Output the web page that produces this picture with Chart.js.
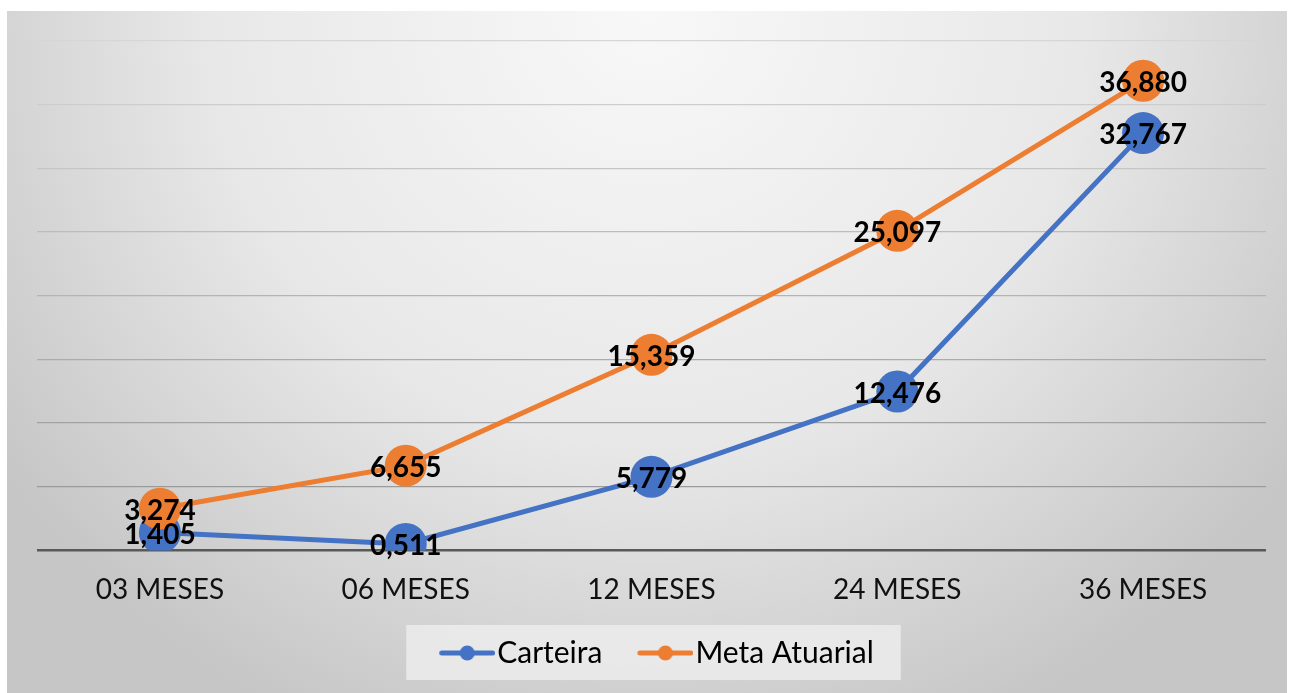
<!DOCTYPE html>
<html>
<head>
<meta charset="utf-8">
<script src="https://cdn.jsdelivr.net/npm/chart.js@4.4.1/dist/chart.umd.min.js"></script>
<style>
  html, body { margin: 0; padding: 0; background: #fff; }
  #wrap { position: absolute; left: 7px; top: 11px; width: 1280px; height: 682px; }
</style>
</head>
<body>
<div id="wrap"><canvas id="chart"></canvas></div>
<script>
const labels = ['03 MESES', '06 MESES', '12 MESES', '24 MESES', '36 MESES'];
const carteira = [1.405, 0.511, 5.779, 12.476, 32.767];
const metaAtuarial = [3.274, 6.655, 15.359, 25.097, 36.880];
const yTicks = [0, 5, 10, 15, 20, 25, 30, 35, 40];

const BLUE = '#4472C4';
const ORANGE = '#ED7D31';
const LEGEND_SHIFT = 10;

// legend marker: a short line with a dot, pushed to the right of the canvas
function legendSymbol(color) {
    const c = document.createElement('canvas');
    c.width = 96;
    c.height = 20;
    const g = c.getContext('2d');
    g.strokeStyle = color;
    g.lineWidth = 5;
    g.lineCap = 'round';
    g.beginPath();
    g.moveTo(42.5, 10);
    g.lineTo(93.5, 10);
    g.stroke();
    g.fillStyle = color;
    g.beginPath();
    g.arc(68, 10, 7.5, 0, Math.PI * 2);
    g.fill();
    return c;
}
const symbols = [legendSymbol(BLUE), legendSymbol(ORANGE)];

function formatValue(v) {
    return v.toFixed(3).replace('.', ',');
}

function mixGray(t) {
    // t = 0 at top, 1 near bottom
    const a = 214, b = 145;
    const v = Math.round(a + (b - a) * t);
    return `rgb(${v},${v},${v})`;
}

const backgroundPlugin = {
    id: 'background',
    afterUpdate(chart) {
        // the marker has blank space on its left, so nudge the row back to look centred
        // (runs after the legend plugin has placed its hit boxes)
        const legend = chart.legend;
        if (legend) {
            legend.left -= LEGEND_SHIFT;
            legend.right -= LEGEND_SHIFT;
            legend.legendHitBoxes.forEach(h => { h.left -= LEGEND_SHIFT; });
        }
    },
    beforeDraw(chart) {
        const { ctx, width, height } = chart;
        ctx.save();
        const rx = width * 0.62, ry = height * 1.15;
        ctx.translate(width / 2, 0);
        ctx.scale(rx, ry);
        const grad = ctx.createRadialGradient(0, 0, 0, 0, 0, 1);
        grad.addColorStop(0, '#f8f8f8');
        grad.addColorStop(0.55, '#e8e8e8');
        grad.addColorStop(1, '#c6c6c6');
        ctx.fillStyle = grad;
        ctx.fillRect(-width / 2 / rx, 0, width / rx, height / ry);
        ctx.restore();

        // light box behind the legend
        const boxes = chart.legend && chart.legend.legendHitBoxes;
        if (boxes && boxes.length) {
            const first = boxes[0];
            const last = boxes[boxes.length - 1];
            const left = first.left - 6;
            const right = last.left + last.width + 27;
            const top = first.top - 13;
            const bottom = first.top + first.height + 12;
            ctx.save();
            ctx.fillStyle = 'rgba(236,236,236,0.85)';
            ctx.fillRect(left, top, right - left, bottom - top);
            ctx.restore();
        }
    }
};

const valueLabelPlugin = {
    id: 'valueLabels',
    afterDatasetsDraw(chart) {
        const { ctx } = chart;
        ctx.save();
        ctx.font = 'bold 28px Lato';
        ctx.fillStyle = '#000';
        ctx.textAlign = 'center';
        ctx.textBaseline = 'middle';
        chart.data.datasets.forEach((ds, i) => {
            const meta = chart.getDatasetMeta(i);
            meta.data.forEach((pt, j) => {
                ctx.fillText(formatValue(ds.data[j]), pt.x, pt.y + 2);
            });
        });
        ctx.restore();
    }
};

const ctx = document.getElementById('chart').getContext('2d');

new Chart(ctx, {
    type: 'line',
    data: {
        labels: labels,
        datasets: [
            {
                label: 'Carteira',
                data: carteira,
                borderColor: BLUE,
                backgroundColor: BLUE,
                borderWidth: 5,
                pointRadius: 21,
                pointBorderWidth: 0,
                pointHoverRadius: 21,
                tension: 0,
                order: 1
            },
            {
                label: 'Meta Atuarial',
                data: metaAtuarial,
                borderColor: ORANGE,
                backgroundColor: ORANGE,
                borderWidth: 5,
                pointRadius: 21,
                pointBorderWidth: 0,
                pointHoverRadius: 21,
                tension: 0,
                order: 0
            }
        ]
    },
    options: {
        responsive: true,
        maintainAspectRatio: false,
        animation: false,
        layout: {
            padding: { left: 30, right: 18, top: 30, bottom: 15 }
        },
        scales: {
            x: {
                offset: true,
                grid: { display: false, drawTicks: false },
                border: { display: false },
                ticks: {
                    padding: 23,
                    color: '#111',
                    font: { family: 'Lato', size: 28 }
                }
            },
            y: {
                min: 0,
                max: 40,
                afterBuildTicks: (scale) => {
                    scale.ticks = yTicks.map(v => ({ value: v }));
                },
                ticks: { display: false },
                border: { display: false },
                grid: {
                    drawTicks: false,
                    color: (c) => c.tick.value === 0 ? '#595959' : mixGray(1 - c.tick.value / 40),
                    lineWidth: (c) => c.tick.value === 0 ? 2.5 : 1.3
                }
            }
        },
        plugins: {
            legend: {
                position: 'bottom',
                labels: {
                    usePointStyle: true,
                    pointStyleWidth: 70,
                    padding: 8,
                    color: '#000',
                    font: { family: 'Lato', size: 30 },
                    generateLabels: (chart) => chart.data.datasets.map((ds, i) => ({
                        text: ds.label,
                        pointStyle: symbols[i],
                        fillStyle: ds.borderColor,
                        strokeStyle: ds.borderColor,
                        lineWidth: 0,
                        hidden: false,
                        datasetIndex: i
                    }))
                }
            },
            tooltip: { enabled: false }
        }
    },
    plugins: [backgroundPlugin, valueLabelPlugin]
});
</script>
</body>
</html>
